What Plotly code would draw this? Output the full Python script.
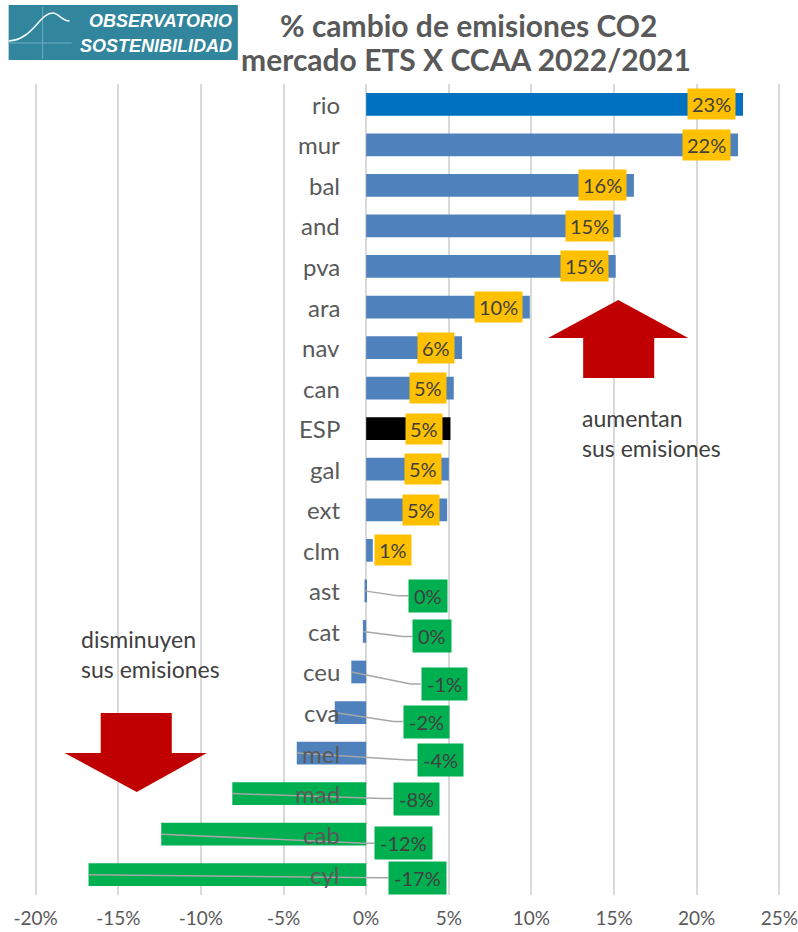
import plotly.graph_objects as go

# ---------------- data ----------------
categories = ["rio", "mur", "bal", "and", "pva", "ara", "nav", "can", "ESP", "gal",
              "ext", "clm", "ast", "cat", "ceu", "cva", "mel", "mad", "cab", "cyl"]
values = [22.8, 22.5, 16.2, 15.4, 15.1, 9.9, 5.8, 5.3, 5.1, 5.0,
          4.9, 0.4, -0.1, -0.2, -0.9, -1.9, -4.2, -8.1, -12.4, -16.8]
value_labels = ["23%", "22%", "16%", "15%", "15%", "10%", "6%", "5%", "5%", "5%",
                "5%", "1%", "0%", "0%", "-1%", "-2%", "-4%", "-8%", "-12%", "-17%"]
tick_vals = [-20, -15, -10, -5, 0, 5, 10, 15, 20, 25]
tick_text = ["-20%", "-15%", "-10%", "-5%", "0%", "5%", "10%", "15%", "20%", "25%"]

# ---------------- layout helpers ----------------
FIG_W, FIG_H = 798, 932
XMIN, XMAX = -20.1, 25.1
PPU = (779 - 36) / 45.0           # px per percentage point
L = 36 - 0.1 * PPU                # px of XMIN
R = 779 + 0.1 * PPU               # px of XMAX
T, B = 84, 895                    # px of plot top/bottom
W, H = R - L, B - T


def px_x(px):
    return (px - L) / W


def px_y(py):
    return 1 - (py - T) / H


def bar_color(cat, v):
    if cat == "rio":
        return "#0070C0"
    if cat == "ESP":
        return "#000000"
    if v < -5:
        return "#00B050"
    return "#4F81BD"


colors = [bar_color(c, v) for c, v in zip(categories, values)]

fig = go.Figure(go.Bar(
    x=values, y=categories, orientation="h",
    marker=dict(color=colors, line=dict(width=0)),
    width=0.56, hoverinfo="skip",
))

FONT = "Lato"
annotations = []
shapes = []

# category labels next to the zero line
for c in categories:
    annotations.append(dict(x=0, y=c, xref="x", yref="y", text=c, showarrow=False,
                            xanchor="right", xshift=-24,
                            font=dict(family=FONT, size=24, color="#595959")))

# placement (layout) for labels of negative/zero bars: box left edge in %, vertical offset px
neg_box_left = {"ast": 2.55, "cat": 2.8, "ceu": 3.3, "cva": 2.25, "mel": 3.1,
                "mad": 1.6, "cab": 0.5, "cyl": 1.35}
neg_dy = {"ast": 5, "cat": 5, "ceu": 12, "cva": 9, "mel": 7, "mad": 5, "cab": 9, "cyl": 3}
ROW_PX = H / len(categories)
LABEL_FONT = dict(family=FONT, size=20, color="#404040")

for i, (c, v, lab) in enumerate(zip(categories, values, value_labels)):
    if c in neg_box_left:
        left = neg_box_left[c]
        dy = neg_dy[c]
        yy = i + dy / ROW_PX
        shapes.append(dict(type="path", xref="x", yref="y",
                           path=f"M {v} {i} L {left - 0.6} {yy} L {left} {yy}",
                           line=dict(color="#A6A6A6", width=1.5), layer="above"))
        annotations.append(dict(x=left, y=i, xref="x", yref="y", text=lab, showarrow=False,
                                xanchor="left", yshift=-dy, bgcolor="#00B050",
                                borderpad=5, height=22, font=LABEL_FONT))
    elif c == "clm":
        annotations.append(dict(x=v, y=c, xref="x", yref="y", text=lab, showarrow=False,
                                xanchor="left", xshift=1, bgcolor="#FFC000",
                                borderpad=4, height=22, font=LABEL_FONT))
    else:
        annotations.append(dict(x=v, y=c, xref="x", yref="y", text=lab, showarrow=False,
                                xanchor="right", xshift=-7, bgcolor="#FFC000",
                                borderpad=4, height=22, font=LABEL_FONT))

# title
annotations.append(dict(x=px_x(468), y=px_y(25), xref="paper", yref="paper",
                        text="<b>% cambio de emisiones CO2</b>", showarrow=False,
                        xanchor="center", yanchor="middle",
                        font=dict(family=FONT, size=30, color="#595959")))
annotations.append(dict(x=px_x(466), y=px_y(59), xref="paper", yref="paper",
                        text="<b>mercado ETS X CCAA 2022/2021</b>", showarrow=False,
                        xanchor="center", yanchor="middle",
                        font=dict(family=FONT, size=30, color="#595959")))

# logo
shapes.append(dict(type="rect", xref="paper", yref="paper",
                   x0=px_x(9), x1=px_x(238), y0=px_y(60), y1=px_y(5),
                   fillcolor="#31859C", line=dict(width=0), layer="above"))
shapes.append(dict(type="line", xref="paper", yref="paper",
                   x0=px_x(9), x1=px_x(72), y0=px_y(43), y1=px_y(43),
                   line=dict(color="#6FAEC0", width=1), layer="above"))
shapes.append(dict(type="line", xref="paper", yref="paper",
                   x0=px_x(43), x1=px_x(43), y0=px_y(7), y1=px_y(59),
                   line=dict(color="#6FAEC0", width=1), layer="above"))


def P(x, y):
    return f"{px_x(x)},{px_y(y)}"


curve = (f"M {P(9, 41)} C {P(33, 40)} {P(40, 13)} {P(53, 13)} "
         f"C {P(59, 13)} {P(62, 21)} {P(70, 21)}")
shapes.append(dict(type="path", xref="paper", yref="paper", path=curve,
                   line=dict(color="#F2F7F9", width=1.6), layer="above"))
LOGO_FONT = dict(family="Liberation Sans", size=18, color="#FFFFFF")
annotations.append(dict(x=px_x(234), y=px_y(21), xref="paper", yref="paper",
                        text="<b><i>OBSERVATORIO</i></b>", showarrow=False,
                        xanchor="right", yanchor="middle", font=LOGO_FONT))
annotations.append(dict(x=px_x(234), y=px_y(46), xref="paper", yref="paper",
                        text="<b><i>SOSTENIBILIDAD</i></b>", showarrow=False,
                        xanchor="right", yanchor="middle", font=LOGO_FONT))

# arrows
up = [(618, 300), (688, 338), (654, 338), (654, 378), (583, 378), (583, 338), (548, 338)]
down = [(101, 713), (172, 713), (172, 753), (207, 753), (137, 792), (65, 753), (101, 753)]
for pts in (up, down):
    path = "M " + " L ".join(P(x, y) for x, y in pts) + " Z"
    shapes.append(dict(type="path", xref="paper", yref="paper", path=path,
                       fillcolor="#C00000", line=dict(width=0), layer="above"))

annotations.append(dict(x=px_x(580), y=px_y(433), xref="paper", yref="paper",
                        text="aumentan<br>sus emisiones", showarrow=False,
                        xanchor="left", yanchor="middle", align="left",
                        font=dict(family=FONT, size=23, color="#404040")))
annotations.append(dict(x=px_x(79), y=px_y(654), xref="paper", yref="paper",
                        text="disminuyen<br>sus emisiones", showarrow=False,
                        xanchor="left", yanchor="middle", align="left",
                        font=dict(family=FONT, size=23, color="#404040")))

fig.update_layout(
    width=FIG_W, height=FIG_H,
    margin=dict(l=L, r=FIG_W - R, t=T, b=FIG_H - B, autoexpand=False),
    plot_bgcolor="#FFFFFF", paper_bgcolor="#FFFFFF",
    showlegend=False,
    xaxis=dict(range=[XMIN, XMAX], tickvals=tick_vals, ticktext=tick_text,
               showgrid=True, gridcolor="#D9D9D9", gridwidth=2,
               zeroline=False, showline=False, ticks="", automargin=False,
               ticklabelstandoff=10,
               tickfont=dict(family=FONT, size=19, color="#595959")),
    yaxis=dict(categoryorder="array", categoryarray=categories,
               range=[len(categories) - 0.5, -0.5], automargin=False,
               showticklabels=False, showgrid=False, zeroline=False, ticks=""),
    annotations=annotations,
    shapes=shapes,
)

fig.write_html("out.html",
               config={"displayModeBar": False},
               post_script="document.body.style.margin='0';"
                           "document.body.style.overflow='hidden';")
